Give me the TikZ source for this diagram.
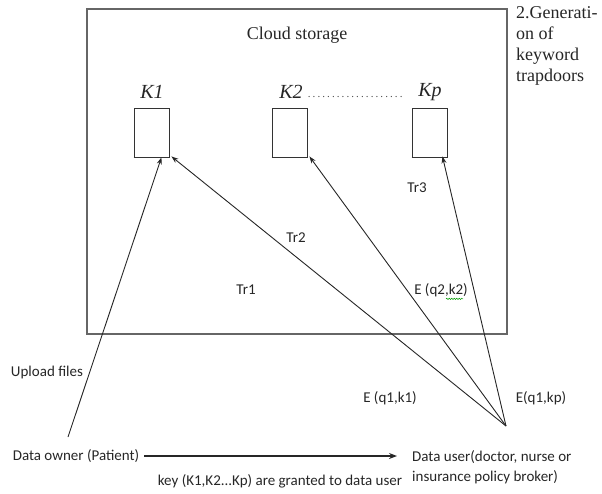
\documentclass[tikz,border=0pt]{standalone}
\usepackage{fontspec}
\setmainfont{Liberation Serif}
\newfontfamily\calib{Carlito}
\usetikzlibrary{arrows.meta,decorations.pathmorphing}
\begin{document}
\begin{tikzpicture}[x=1pt,y=-1pt,
  kbox/.style={draw=black!80, line width=0.9pt, minimum width=35pt, minimum height=49pt, inner sep=0pt},
  conn/.style={draw=black!85, line width=0.9pt, -{Stealth[length=7pt,width=5pt]}},
  sanslbl/.style={font=\calib\fontsize{15}{20}\selectfont, inner sep=0pt, text=black!85},
  serlbl/.style={font=\fontsize{18}{21}\selectfont, inner sep=0pt, text=black!85},
  klbl/.style={font=\fontsize{20}{22}\selectfont\itshape, inner sep=0pt, text=black!85}]
\useasboundingbox (0,0) rectangle (602,493);
% cloud storage frame
\node[draw=black!60, line width=1.4pt, minimum width=420pt, minimum height=325pt, inner sep=0pt] (cloud) at (297,171.5) {};
\node[serlbl] (ctitle) at (297,35) {Cloud storage};
\node[serlbl, align=left, anchor=north west] (gen) at (516,6) {2.Generati-\\on of\\keyword\\trapdoors};
% keyword boxes
\node[kbox] (k1) at (151.5,132.5) {};
\node[kbox] (k2) at (289.5,132.5) {};
\node[kbox] (kp) at (429.5,132.5) {};
\foreach \b in {k1,k2,kp}{\draw[black!80, line width=1.6pt] (\b.south west) -- (\b.south east);}
\node[klbl] (lk1) at (152,92) {K1};
\node[klbl] (lk2) at (291,92) {K2};
\node[klbl] (lkp) at (430,92) {Kp};
\node[inner sep=0pt, font=\fontsize{11}{12}\selectfont, text=black!70, anchor=base west] (dots) at (305,97) {\makebox[100pt]{\dotfill}};
% labels
\node[sanslbl] (tr3) at (417,188) {Tr3};
\node[sanslbl] (tr2) at (296,238) {Tr2};
\node[sanslbl] (tr1) at (246,290) {Tr1};
\node[sanslbl] (eq2) at (441,290) {E (q2,k2)};
\draw[green!60!black, line width=0.5pt, decorate, decoration={snake,amplitude=0.7pt,segment length=2.5pt}] ([xshift=5pt,yshift=-2pt]eq2.south) -- ([xshift=22pt,yshift=-2pt]eq2.south);
\node[sanslbl] (eq1) at (390,398) {E (q1,k1)};
\node[sanslbl] (eqp) at (541,398) {E(q1,kp)};
\node[sanslbl] (upl) at (47,372) {Upload files};
% parties
\node[sanslbl] (owner) at (76,456) {Data owner (Patient)};
\node[sanslbl, align=left, anchor=west] (user) at (412,467) {Data user(doctor, nurse or\\insurance policy broker)};
\node[sanslbl] (key) at (280,481) {key (K1,K2...Kp) are granted to data user};
\coordinate (ownertop) at (68,437);
\coordinate (hub) at (506,426);
% connectors
\draw[conn] (ownertop) -- ([xshift=-8pt]k1.south east);
\draw[conn] (hub) -- ([xshift=2pt,yshift=1pt]k1.south east);
\draw[conn] (hub) -- ([xshift=2pt,yshift=1pt]k2.south east);
\draw[conn] (hub) -- ([xshift=-5pt,yshift=1pt]kp.south east);
\draw[draw=black!85, line width=1.5pt, -{Stealth[length=8pt,width=6pt]}] ([xshift=5pt]owner.east) -- ([xshift=-15pt]user.west |- owner.east);
\end{tikzpicture}
\end{document}
